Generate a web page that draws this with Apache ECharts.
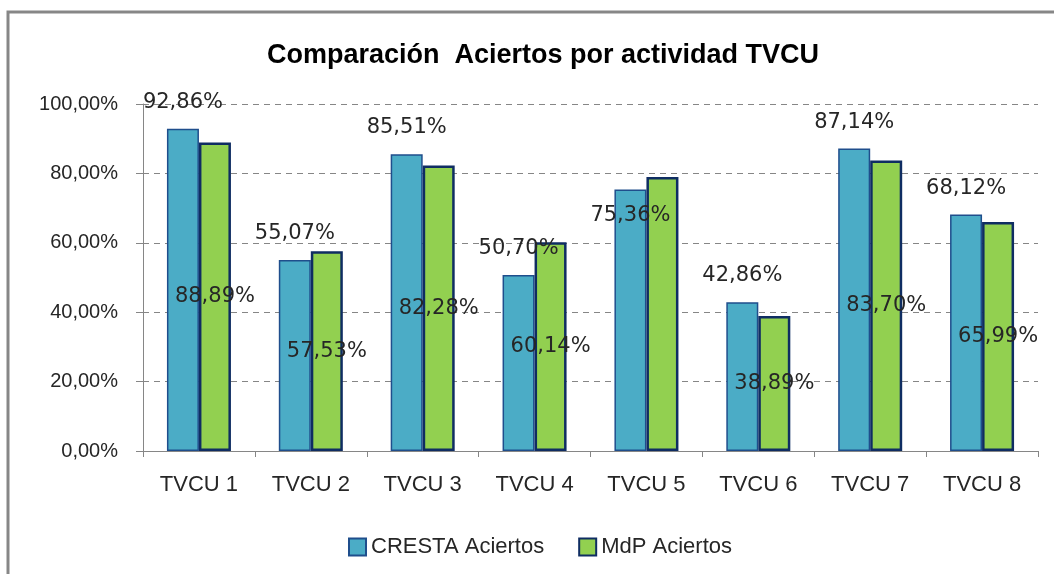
<!DOCTYPE html>
<html>
<head>
<meta charset="utf-8">
<script src="https://cdn.jsdelivr.net/npm/echarts@6/dist/echarts.min.js"></script>
<style>
html,body{margin:0;padding:0;background:#fff;}
#chart{width:1054px;height:574px;}
</style>
</head>
<body>
<div id="chart"></div>
<script>
const categories = ['TVCU 1','TVCU 2','TVCU 3','TVCU 4','TVCU 5','TVCU 6','TVCU 7','TVCU 8'];
const crestaValues = [92.86, 55.07, 85.51, 50.70, 75.36, 42.86, 87.14, 68.12];
const mdpValues = [88.89, 57.53, 82.28, 60.14, 78.95, 38.89, 83.70, 65.99];
const mdpLabelShown = [true, true, true, true, false, true, true, true];
const seriesNames = ['CRESTA Aciertos', 'MdP Aciertos'];
const titleText = 'Comparación  Aciertos por actividad TVCU';

function pct(v){ return v.toFixed(2).replace('.', ',') + '%'; }

const labelFont = {fontFamily:'DejaVu Sans', fontSize:21, color:'#262626'};

const crestaData = crestaValues.map((v,i)=>{
  const d = {value:v};
  if (i === 4) {
    d.label = {position:'insideTop', distance:16};
  }
  return d;
});
const mdpData = mdpValues.map((v,i)=>({value:v, label:{show:mdpLabelShown[i]}}));

const chart = echarts.init(document.getElementById('chart'), null, {renderer:'canvas'});
chart.setOption({
  animation:false,
  backgroundColor:'#ffffff',
  graphic:[{
    type:'rect', shape:{x:8, y:12, width:1100, height:620},
    style:{fill:'none', stroke:'#878787', lineWidth:3}, silent:true, z:100
  }],
  title:{
    text:titleText, left:262, top:37,
    textStyle:{fontFamily:'Liberation Sans', fontWeight:'bold', fontSize:27, color:'#000'}
  },
  legend:{
    left:343, top:531, icon:'rect',
    itemWidth:17, itemHeight:17, itemGap:34,
    textStyle:{fontFamily:'Liberation Sans', fontSize:22, color:'#262626'},
    data:seriesNames
  },
  grid:{left:143, right:16, top:104, bottom:123, containLabel:false},
  xAxis:{
    type:'category', data:categories,
    axisLine:{lineStyle:{color:'#868686', width:1}},
    axisTick:{show:true, length:6, lineStyle:{color:'#868686'}},
    axisLabel:{interval:0, margin:23, fontFamily:'Liberation Sans', fontSize:22, color:'#262626'}
  },
  yAxis:{
    type:'value', min:0, max:100, interval:20,
    axisLine:{show:true, lineStyle:{color:'#868686', width:1}},
    axisTick:{show:true, length:7, lineStyle:{color:'#868686'}},
    axisLabel:{margin:25, fontFamily:'Liberation Sans', fontSize:20, color:'#262626', formatter:pct},
    splitLine:{lineStyle:{color:'#868686', type:[6,5], width:1}}
  },
  series:[
    {
      name:seriesNames[0], type:'bar', data:crestaData,
      barWidth:32, barGap:'0%',
      itemStyle:{color:'#4BACC6', borderColor:'#1F4E8C', borderWidth:1.5},
      label:{show:true, position:'top', distance:16, formatter:p=>pct(p.value), ...labelFont},
      z:2
    },
    {
      name:seriesNames[1], type:'bar', data:mdpData,
      barWidth:32,
      itemStyle:{color:'#92D050', borderColor:'#0F2D62', borderWidth:2.5},
      label:{show:true, position:'inside', formatter:p=>pct(p.value), ...labelFont},
      z:2
    }
  ]
});
</script>
</body>
</html>
